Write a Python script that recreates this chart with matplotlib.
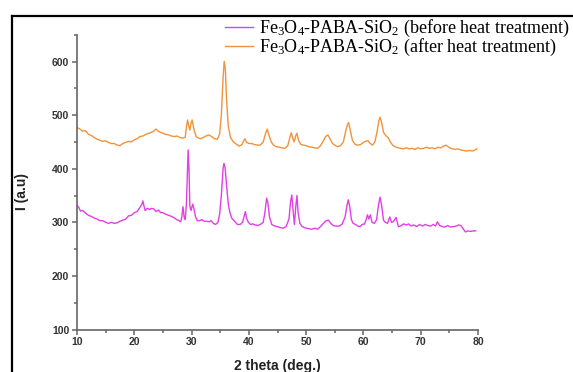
import matplotlib
matplotlib.use("Agg")
import matplotlib.pyplot as plt
from matplotlib.lines import Line2D
from matplotlib.ticker import MultipleLocator

plt.rcParams['mathtext.fontset'] = 'custom'
plt.rcParams['mathtext.rm'] = 'Liberation Serif'
plt.rcParams['mathtext.it'] = 'Liberation Serif:italic'

# XRD pattern, after heat treatment (orange)
x_after = [10, 10.5, 11, 11.5, 12, 12.5, 13, 13.5, 14, 14.5, 15, 15.5, 16, 16.5, 17, 17.5,
           18, 18.5, 19, 19.5, 20, 20.5, 21, 21.5, 22, 22.5, 23, 23.5, 23.8, 24.2, 24.5, 25,
           25.5, 26, 26.5, 27, 27.5, 28, 28.5, 28.9, 29.1, 29.3, 29.5, 29.7, 29.9, 30.1, 30.4,
           30.8, 31.2, 31.6, 32, 32.5, 33, 33.5, 34, 34.5, 34.9, 35.2, 35.5, 35.7, 35.9, 36.1,
           36.4, 36.8, 37.3, 37.8, 38.3, 38.8, 39.1, 39.3, 39.6, 40, 40.5, 41, 41.5, 42, 42.5,
           42.9, 43.2, 43.5, 43.9, 44.3, 44.8, 45.3, 45.8, 46.3, 46.8, 47.2, 47.4, 47.7, 47.9,
           48.2, 48.4, 48.7, 49.1, 49.6, 50, 50.5, 51, 51.5, 52, 52.5, 53, 53.4, 53.8, 54.2,
           54.6, 55, 55.5, 56, 56.5, 56.9, 57.2, 57.4, 57.7, 58.1, 58.6, 59, 59.5, 60, 60.5,
           60.8, 61.2, 61.6, 62, 62.4, 62.7, 62.9, 63.2, 63.5, 63.9, 64.3, 64.7, 65.1, 65.5,
           66, 66.5, 67, 67.5, 68, 68.5, 69, 69.5, 70, 70.5, 71, 71.5, 72, 72.5, 73, 73.5, 74,
           74.4, 74.8, 75.2, 75.6, 76, 76.5, 77, 77.5, 78, 78.5, 79, 79.5, 79.8]
y_after = [477, 474, 470, 471, 464, 462, 458, 455, 453, 451, 452, 449, 447, 447, 444, 443,
           447, 449, 451, 450, 454, 456, 460, 461, 464, 466, 468, 471, 474, 470, 468, 466,
           464, 463, 461, 460, 461, 458, 457, 459, 478, 491, 480, 472, 485, 491, 474,
           460, 457, 456, 458, 461, 463, 460, 456, 455, 465, 500, 570, 600, 585, 530,
           480, 458, 450, 446, 442, 445, 452, 456, 449, 447, 447, 445, 444, 444, 450,
           465, 474, 463, 450, 444, 441, 440, 439, 438, 443, 460, 467, 456, 450,
           462, 466, 452, 445, 444, 443, 441, 440, 439, 438, 443, 452, 460, 463, 455,
           447, 444, 441, 443, 450, 470, 482, 486, 472, 452, 445, 444, 445, 449, 452,
           452, 447, 444, 450, 470, 490, 496, 485, 468, 462, 458, 450, 444, 441,
           439, 438, 437, 439, 437, 438, 436, 439, 437, 438, 440, 438, 439, 437, 440, 439, 442,
           444, 441, 438, 437, 436, 437, 435, 434, 433, 434, 433, 435, 437]

# XRD pattern, before heat treatment (magenta)
x_before = [10, 10.3, 10.6, 11, 11.5, 12, 12.5, 13, 13.5, 14, 14.5, 15, 15.5, 16, 16.5, 17,
            17.5, 18, 18.5, 19, 19.5, 20, 20.5, 21, 21.3, 21.5, 21.7, 21.9, 22.3, 22.7, 23,
            23.4, 23.8, 24.2, 24.6, 25, 25.5, 26, 26.5, 27, 27.4, 27.8, 28.1, 28.3, 28.5, 28.7,
            28.9, 29.1, 29.3, 29.4, 29.55, 29.7, 29.9, 30.2, 30.4, 30.7, 31, 31.4, 31.8, 32.2,
            32.6, 33, 33.4, 33.8, 34.2, 34.6, 34.9, 35.2, 35.5, 35.65, 35.85, 36.1, 36.4, 36.7,
            37, 37.5, 38, 38.5, 38.9, 39.2, 39.4, 39.6, 39.9, 40.3, 40.7, 41.1, 41.5, 42, 42.5,
            42.8, 43.1, 43.3, 43.6, 44, 44.5, 45, 45.5, 46, 46.5, 47, 47.3, 47.5, 47.7, 47.95,
            48.2, 48.4, 48.6, 48.9, 49.3, 49.7, 50, 50.5, 51, 51.5, 52, 52.5, 53, 53.5, 53.9,
            54.3, 54.7, 55.2, 55.8, 56.3, 56.8, 57.1, 57.35, 57.6, 57.9, 58.2, 58.6, 59, 59.4,
            59.8, 60.2, 60.5, 60.7, 60.95, 61.2, 61.5, 61.9, 62.3, 62.6, 62.9, 63.2, 63.5, 63.8,
            64.2, 64.6, 64.9, 65.2, 65.7, 66.1, 66.5, 67, 67.5, 67.9, 68.3, 68.8, 69.3, 69.8,
            70.3, 70.8, 71.2, 71.7, 72.2, 72.6, 72.9, 73.3, 73.8, 74.2, 74.7, 75.2, 75.7, 76.2,
            76.6, 77, 77.4, 77.8, 78.2, 78.7, 79.2, 79.6]
y_before = [332, 328, 321, 322, 317, 313, 311, 308, 306, 303, 303, 300, 298, 300, 298, 299,
            302, 304, 306, 312, 313, 318, 320, 328, 333, 340, 330, 322, 326, 324, 326,
            325, 320, 323, 318, 318, 315, 313, 311, 308, 305, 303, 301, 310, 329, 310,
            305, 335, 400, 435, 400, 330, 322, 334, 326, 310, 303, 303, 305, 302,
            302, 301, 303, 298, 296, 300, 315, 350, 400, 410, 402, 370, 335, 318,
            308, 302, 296, 296, 300, 312, 320, 308, 300, 296, 297, 295, 294, 296, 300,
            318, 345, 338, 310, 296, 293, 292, 290, 289, 292, 306, 340, 351, 325, 296,
            330, 350, 318, 298, 292, 290, 289, 288, 287, 289, 287, 292, 298, 303, 304,
            298, 294, 293, 293, 297, 310, 330, 342, 330, 305, 298, 296, 293, 292,
            296, 297, 306, 314, 306, 314, 300, 298, 305, 330, 347, 330, 304, 300,
            298, 310, 300, 301, 309, 292, 293, 297, 295, 297, 293, 295, 292, 296,
            293, 296, 294, 293, 296, 293, 301, 294, 292, 291, 294, 291, 292, 293,
            295, 294, 288, 282, 284, 283, 284, 284]

labels = ['Fe$_3$O$_4$-PABA-SiO$_2$ (before heat treatment)',
          'Fe$_3$O$_4$-PABA-SiO$_2$ (after heat treatment)']
colors = ['#e23fe4', '#ef933c']

fig = plt.figure(figsize=(5.73, 3.72), dpi=100)
ax = fig.add_axes([77/573, 1 - 329.5/372, 401/573, (329.5 - 34.7)/372])

ax.plot(x_before, y_before, color=colors[0], lw=1.0, label=labels[0])
ax.plot(x_after, y_after, color=colors[1], lw=1.0, label=labels[1])

ax.set_xlim(10, 80)
ax.set_ylim(100, 650)
ax.xaxis.set_major_locator(MultipleLocator(10))
ax.xaxis.set_minor_locator(MultipleLocator(5))
ax.yaxis.set_major_locator(MultipleLocator(100))
ax.yaxis.set_minor_locator(MultipleLocator(50))
ax.set_yticks([100, 200, 300, 400, 500, 600])

for s in ['top', 'right']:
    ax.spines[s].set_visible(False)
for s in ['left', 'bottom']:
    ax.spines[s].set_color('#666666')
    ax.spines[s].set_linewidth(1.2)
ax.tick_params(which='major', direction='out', length=3.5, width=1.1, color='#666666',
               labelsize=7.5, labelcolor='#333333', pad=2)
ax.tick_params(which='minor', direction='out', length=2.5, width=1.1, color='#666666')
for lab in ax.get_xticklabels() + ax.get_yticklabels():
    lab.set_fontweight('bold')
    lab.set_family('Liberation Sans')

fig.text(277/573, 1 - 366/372, '2 theta (deg.)', ha='center', va='center',
         fontsize=10, fontweight='bold', family='Liberation Sans', color='#222222')
fig.text(22/573, 1 - 192/372, 'I (a.u)', ha='center', va='center', rotation=90,
         fontsize=10, fontweight='bold', family='Liberation Sans', color='#222222')

ax.legend(loc='upper left', bbox_to_anchor=(225/573, 1 - 18/372),
          bbox_transform=fig.transFigure, frameon=False,
          prop={'family': 'Liberation Serif', 'size': 13},
          handlelength=1.55, handletextpad=0.35, labelspacing=-0.12, borderpad=0,
          borderaxespad=0)

# black frame around the figure (only left and top edges visible)
fig.add_artist(Line2D([12/573, 12/573], [0, 1 - 16/372], color='black', lw=1.6))
fig.add_artist(Line2D([12/573, 1], [1 - 16/372, 1 - 16/372], color='black', lw=1.6))

fig.savefig('out.png', dpi=100)
